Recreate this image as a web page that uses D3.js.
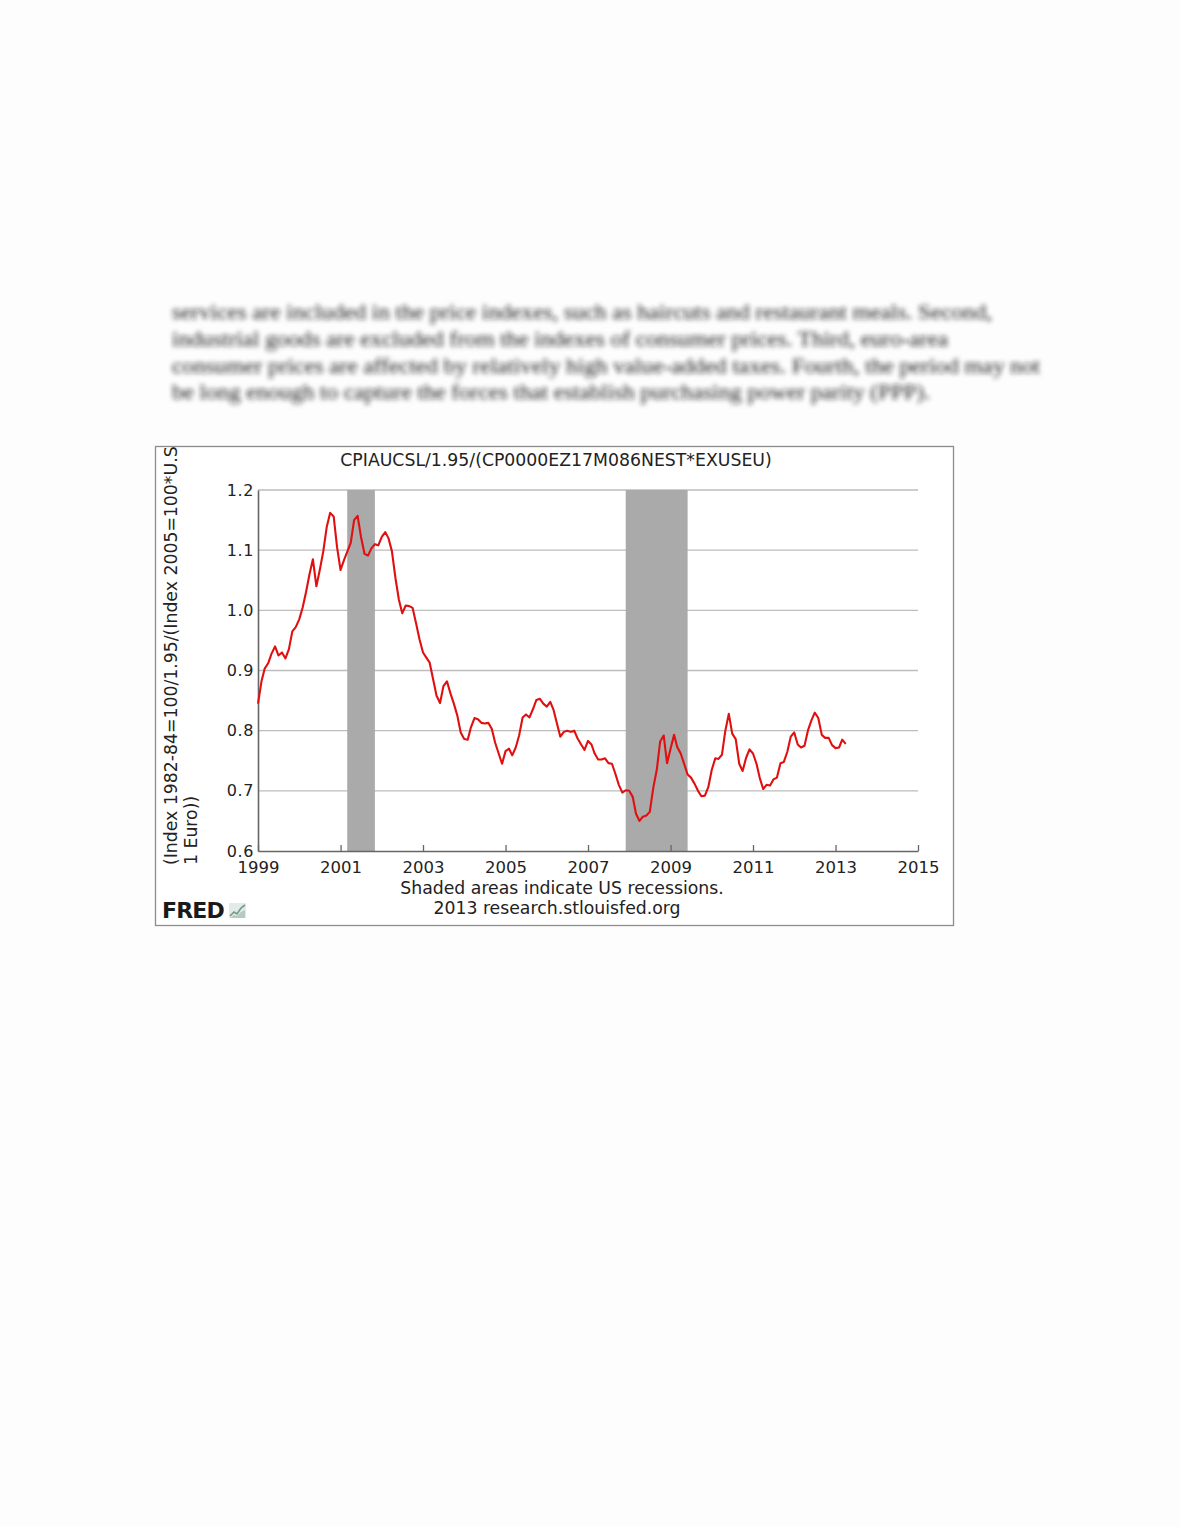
<!DOCTYPE html>
<html><head><meta charset="utf-8">
<script src="https://cdn.jsdelivr.net/npm/d3@7"></script>
<style>
body{margin:0;background:#fdfdfd;}
svg{display:block;}
</style>
</head><body>
<svg id="c" width="1180" height="1527"></svg>
<script>
// ---- data ----
const startMonth = "1999-01-01";
const ratioValues = [
 0.845,0.882,0.903,0.912,0.928,0.940,0.925,0.930,0.920,0.935,0.965,0.972, // 1999
 0.985,1.005,1.030,1.060,1.085,1.040,1.067,1.098,1.139,1.162,1.156,1.105, // 2000
 1.067,1.084,1.097,1.112,1.150,1.157,1.122,1.094,1.091,1.103,1.110,1.108, // 2001
 1.122,1.130,1.120,1.098,1.055,1.018,0.995,1.008,1.007,1.004,0.978,0.952, // 2002
 0.930,0.921,0.913,0.885,0.858,0.846,0.874,0.882,0.862,0.845,0.825,0.797, // 2003
 0.786,0.785,0.806,0.821,0.819,0.813,0.812,0.813,0.803,0.780,0.762,0.745, // 2004
 0.766,0.770,0.759,0.772,0.792,0.822,0.827,0.822,0.836,0.851,0.853,0.845, // 2005
 0.840,0.848,0.835,0.812,0.790,0.798,0.800,0.798,0.800,0.787,0.777,0.768, // 2006
 0.783,0.777,0.762,0.752,0.752,0.754,0.746,0.745,0.728,0.710,0.697,0.701, // 2007
 0.700,0.690,0.662,0.650,0.657,0.659,0.665,0.705,0.735,0.782,0.792,0.746, // 2008
 0.770,0.793,0.773,0.762,0.745,0.727,0.722,0.712,0.700,0.691,0.692,0.706, // 2009
 0.735,0.754,0.753,0.760,0.800,0.828,0.795,0.786,0.745,0.733,0.755,0.769, // 2010
 0.762,0.745,0.722,0.703,0.710,0.709,0.719,0.722,0.746,0.748,0.765,0.790, // 2011
 0.797,0.777,0.772,0.775,0.800,0.817,0.830,0.821,0.793,0.788,0.788,0.776, // 2012
 0.771,0.772,0.785,0.778                                                  // 2013
];
const recessions = [["2001-03-01","2001-11-01"],["2007-12-01","2009-06-01"]];
const xDomain = ["1999-01-01","2015-01-01"];
const yDomain = [0.6, 1.2];
const xTickYears = [1999,2001,2003,2005,2007,2009,2011,2013,2015];
const yTickValues = [0.6,0.7,0.8,0.9,1.0,1.1,1.2];
const titleText = "CPIAUCSL/1.95/(CP0000EZ17M086NEST*EXUSEU)";
const yLabelLines = ["(Index 1982-84=100/1.95/(Index 2005=100*U.S", "1 Euro))"];
const noteLines = ["Shaded areas indicate US recessions.", "2013 research.stlouisfed.org"];
const paragraphLines = [
 "services are included in the price indexes, such as haircuts and restaurant meals. Second,",
 "industrial goods are excluded from the indexes of consumer prices. Third, euro-area",
 "consumer prices are affected by relatively high value-added taxes. Fourth, the period may not",
 "be long enough to capture the forces that establish purchasing power parity (PPP)."
];

// ---- drawing ----
const svg = d3.select("#c");
const parse = d3.utcParse("%Y-%m-%d");
const start = parse(startMonth);
const series = ratioValues.map((v,i)=>({date:d3.utcMonth.offset(start,i), value:v}));

// blurred paragraph
const defs = svg.append("defs");
defs.append("filter").attr("id","blur").attr("x","-5%").attr("y","-50%").attr("width","110%").attr("height","200%")
  .append("feGaussianBlur").attr("stdDeviation",2.9);
const paraWidths = [820, 776, 868, 758];
svg.append("g").attr("filter","url(#blur)")
  .selectAll("text").data(paragraphLines).join("text")
  .attr("x",172).attr("y",(d,i)=>319+i*26.8)
  .attr("textLength",(d,i)=>paraWidths[i]).attr("lengthAdjust","spacingAndGlyphs")
  .attr("font-family","Liberation Serif, serif").attr("font-size",20).attr("fill","#1a1a1a")
  .text(d=>d);

// frame
svg.append("rect").attr("x",155.5).attr("y",446.5).attr("width",798).attr("height",479)
  .attr("fill","#ffffff").attr("stroke","#8c8c8c").attr("stroke-width",1.3);

const L=258, R=918, T=490, B=851;
const x = d3.scaleUtc().domain(xDomain.map(parse)).range([L,R]);
const y = d3.scaleLinear().domain(yDomain).range([B,T]);

// grid
svg.append("g").selectAll("line").data(yTickValues.filter(v=>v>yDomain[0])).join("line")
  .attr("x1",L).attr("x2",R).attr("y1",d=>y(d)).attr("y2",d=>y(d))
  .attr("stroke","#bdbdbd").attr("stroke-width",1.4);

// recessions
svg.append("g").selectAll("rect").data(recessions).join("rect")
  .attr("x",d=>x(parse(d[0]))).attr("width",d=>x(parse(d[1]))-x(parse(d[0])))
  .attr("y",T).attr("height",B-T).attr("fill","#aaaaaa");

// axes
const font = "DejaVu Sans, Verdana, sans-serif";
const xAxis = d3.axisBottom(x).tickValues(xTickYears.map(yr=>new Date(Date.UTC(yr,0,1))))
  .tickFormat(d3.utcFormat("%Y")).tickSizeInner(-6).tickSizeOuter(0).tickPadding(10);
const gx = svg.append("g").attr("transform",`translate(0,${B})`).call(xAxis);
gx.select(".domain").attr("stroke","#666").attr("stroke-width",1.6);
gx.selectAll(".tick line").attr("stroke","#666").attr("stroke-width",1.3);
gx.selectAll("text").attr("font-family",font).attr("font-size",16.5).attr("fill","#222");

const yAxis = d3.axisLeft(y).tickValues(yTickValues).tickFormat(d3.format(".1f"))
  .tickSizeInner(0).tickSizeOuter(0).tickPadding(4);
const gy = svg.append("g").attr("transform",`translate(${L},0)`).call(yAxis);
gy.select(".domain").attr("stroke","#666").attr("stroke-width",1.6);
gy.selectAll("text").attr("font-family",font).attr("font-size",16).attr("fill","#222").attr("letter-spacing",0.6);

// line
svg.append("path").datum(series)
  .attr("d",d3.line().x(d=>x(d.date)).y(d=>y(d.value)))
  .attr("fill","none").attr("stroke","#e01010").attr("stroke-width",2.1).attr("stroke-linejoin","round");

// title
svg.append("text").attr("x",556).attr("y",466).attr("text-anchor","middle")
  .attr("font-family",font).attr("font-size",17.3).attr("fill","#222").text(titleText);

// y label
svg.append("defs").append("clipPath").attr("id","frameclip")
  .append("rect").attr("x",156).attr("y",447).attr("width",797).attr("height",478);
svg.append("g").attr("clip-path","url(#frameclip)")
  .selectAll("text").data(yLabelLines).join("text")
  .attr("transform",(d,i)=>`translate(${177+i*20},865) rotate(-90)`)
  .attr("font-family",font).attr("font-size",17.3).attr("fill","#222").text(d=>d);

// notes
svg.selectAll("text.note").data(noteLines).join("text").attr("class","note")
  .attr("x",(d,i)=>i===0?562:557).attr("y",(d,i)=>894+i*20).attr("text-anchor","middle")
  .attr("font-family",font).attr("font-size",17.3).attr("fill","#222").text(d=>d);

// FRED logo
svg.append("text").attr("x",162).attr("y",918).attr("font-family","DejaVu Sans, sans-serif")
  .attr("font-weight","bold").attr("font-size",22).attr("letter-spacing",-0.8).attr("fill","#1a1a1a").text("FRED");
const logo = svg.append("g").attr("transform","translate(229,903)");
logo.append("rect").attr("width",17).attr("height",15).attr("fill","#e4ebe6");
logo.append("path").attr("d","M1,13 L5,9 L8,11 L12,5 L16,2").attr("fill","none").attr("stroke","#6f9c86").attr("stroke-width",1.6);
logo.append("path").attr("d","M1,15 L5,12 L8,13 L12,9 L16,7 L16,15 Z").attr("fill","#b6c9c0");
</script>
</body></html>
